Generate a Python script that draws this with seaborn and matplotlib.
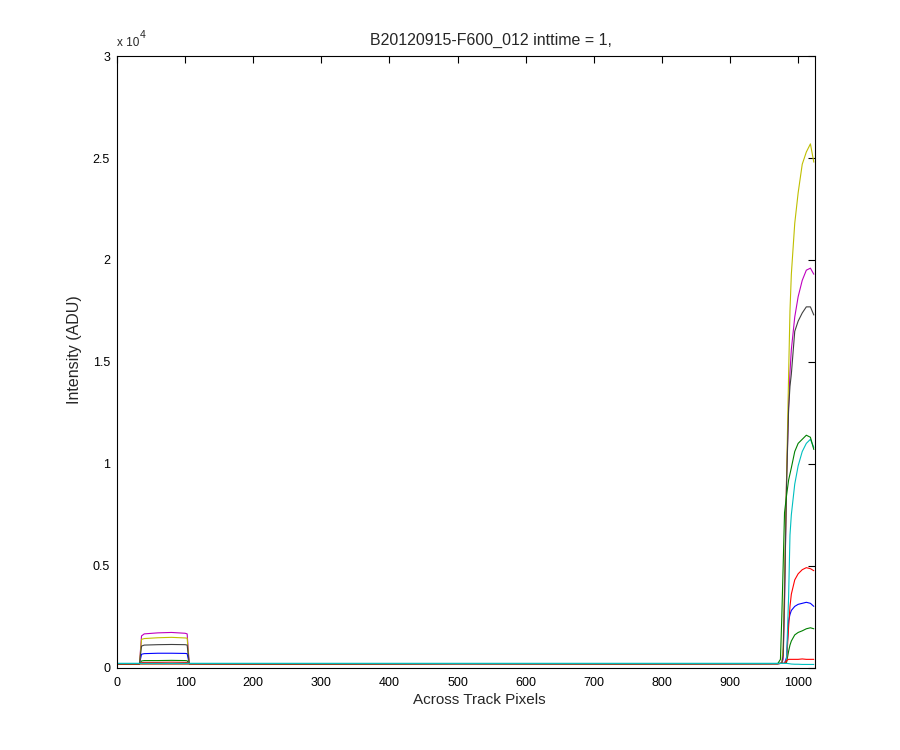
import numpy as np
import pandas as pd
import matplotlib
matplotlib.use('Agg')
import matplotlib.pyplot as plt
import seaborn as sns

pixels = [0, 33, 36, 40, 60, 80, 100, 103, 106, 250, 500, 750, 970, 974, 976,
          978, 980, 983, 986, 988, 990, 995, 1000, 1006, 1012, 1018, 1023]

serie_azul = [180, 180, 650, 680, 700, 700, 690, 680, 190, 180, 190, 185, 190, 200, 200,
              200, 200, 500, 2300, 2600, 2800, 3000, 3100, 3150, 3200, 3150, 3000]
serie_verde_baixa = [180, 180, 320, 340, 340, 350, 340, 330, 190, 180, 190, 185, 190, 200, 200,
                     200, 200, 250, 800, 1100, 1300, 1600, 1720, 1800, 1900, 1950, 1900]
serie_vermelha = [180, 180, 240, 250, 250, 260, 250, 250, 190, 180, 190, 185, 190, 200, 200,
                  200, 200, 300, 2000, 3000, 3600, 4300, 4600, 4800, 4900, 4850, 4750]
serie_ciano = [200, 200, 200, 200, 200, 200, 200, 200, 200, 200, 200, 200, 200, 200, 200,
               200, 200, 400, 3500, 6500, 7500, 9000, 9900, 10600, 11000, 11200, 10800]
serie_magenta = [180, 180, 1550, 1650, 1700, 1720, 1680, 1650, 190, 180, 190, 185, 190, 200, 220,
                 400, 3000, 9300, 12800, 14500, 15600, 17200, 18200, 19000, 19500, 19600, 19300]
serie_amarela = [180, 180, 1380, 1420, 1460, 1480, 1450, 1440, 190, 180, 190, 185, 190, 200, 220,
                 1000, 4200, 9300, 14400, 17500, 19300, 21800, 23300, 24700, 25300, 25700, 24800]
serie_preta = [180, 180, 1050, 1100, 1120, 1130, 1120, 1100, 190, 180, 190, 185, 190, 200, 220,
               600, 3500, 9000, 12700, 13800, 14400, 16500, 17000, 17400, 17700, 17700, 17300]
serie_verde_alta = [180, 180, 180, 180, 180, 180, 180, 180, 180, 180, 190, 185, 190, 400, 2500,
                    5000, 7600, 8450, 9200, 9500, 9800, 10600, 11000, 11200, 11400, 11300, 10700]
serie_vermelha_baixa = [180, 180, 180, 180, 180, 180, 180, 180, 180, 180, 190, 185, 190, 200, 200,
                        200, 200, 350, 400, 400, 400, 400, 400, 420, 400, 400, 400]
serie_ciano_baixa = [200, 200, 200, 200, 200, 200, 200, 200, 200, 200, 200, 200, 200, 200, 200,
                     200, 200, 200, 190, 180, 170, 160, 160, 150, 150, 150, 150]

series = [
    (serie_azul, (0, 0, 1)),
    (serie_verde_baixa, (0, 0.5, 0)),
    (serie_vermelha, (1, 0, 0)),
    (serie_ciano, (0, 0.75, 0.75)),
    (serie_magenta, (0.75, 0, 0.75)),
    (serie_amarela, (0.75, 0.75, 0)),
    (serie_preta, (0.25, 0.25, 0.25)),
    (serie_verde_alta, (0, 0.5, 0)),
    (serie_vermelha_baixa, (1, 0, 0)),
    (serie_ciano_baixa, (0, 0.75, 0.75)),
]

sns.set_style('white')
plt.rcParams['font.family'] = ['Liberation Sans', 'DejaVu Sans']

fig = plt.figure(figsize=(9, 7.5), dpi=100)
ax = fig.add_axes([0.13, 0.11, 0.775, 0.815])

for valores, cor in series:
    sns.lineplot(x=pixels, y=valores, color=cor, lw=0.8, ax=ax)

ax.set_xlim(0, 1024)
ax.set_ylim(0, 30000)
ax.set_xticks(np.arange(0, 1001, 100))
ax.set_yticks(np.arange(0, 30001, 5000))
ax.yaxis.set_major_formatter(plt.FuncFormatter(lambda v, _: f'{v / 1e4:g}'))
ax.tick_params(direction='in', length=5, width=0.8, top=True, right=True,
               labelsize=9, colors='black', pad=5)
ax.tick_params(axis='x', pad=7)
for sp in ax.spines.values():
    sp.set_color('black')
    sp.set_linewidth(0.8)

ax.set_xlabel('Across Track Pixels', fontsize=11)
ax.set_ylabel('Intensity (ADU)', fontsize=11.5)
ax.xaxis.set_label_coords(0.519, -0.041)
ax.yaxis.set_label_coords(-0.05, 0.52)
ax.set_title('B20120915-F600_012 inttime = 1,', fontsize=11.5, x=0.536, pad=8)

ax.text(0.0, 1.012, 'x 10', transform=ax.transAxes, fontsize=8.5, ha='left', va='bottom')
ax.text(0.033, 1.027, '4', transform=ax.transAxes, fontsize=7.5, ha='left', va='bottom')

fig.savefig('out.png', dpi=100)
